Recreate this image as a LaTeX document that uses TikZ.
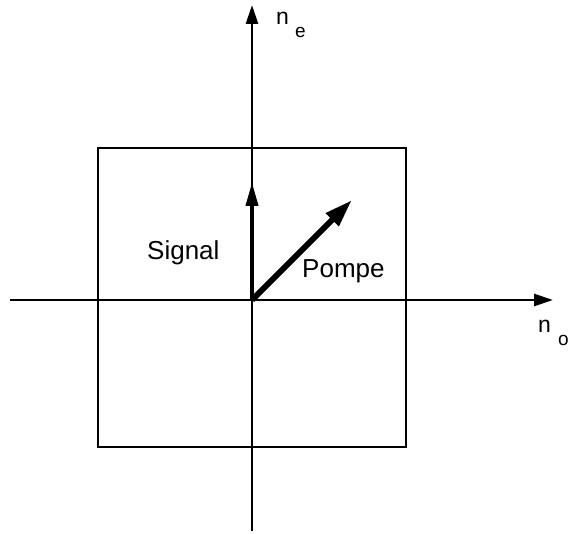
\documentclass[tikz,border=0pt]{standalone}
\usepackage{fontspec}
\setmainfont{Liberation Sans}
\usetikzlibrary{arrows.meta}
\tikzset{
  axis/.style={line width=2.8pt,-{Triangle[length=19pt,width=12pt]}},
  frame/.style={line width=2pt},
  signalvec/.style={line width=3.8pt,-{Triangle[length=24pt,width=12pt]}},
  pompevec/.style={line width=6pt,-{Triangle[length=28pt,width=17pt]}},
  lbl/.style={inner sep=0pt,anchor=base west,font=\fontsize{26}{30}\selectfont},
  axlbl/.style={inner sep=0pt,anchor=base west,font=\fontsize{23}{27}\selectfont},
  sublbl/.style={inner sep=0pt,anchor=base west,font=\fontsize{19}{22}\selectfont}
}
\begin{document}
\begin{tikzpicture}[x=1pt,y=1pt]
\useasboundingbox (0,0) rectangle (569,534);
\coordinate (O) at (252,234);
\coordinate (vb) at (252,3);
\coordinate (vt) at (252,529);
\coordinate (hl) at (10,234);
\coordinate (hr) at (553,234);
\coordinate (s) at (252,352);
\coordinate (p) at (352,334);
\draw[frame] (98,87) rectangle (406,386);
\draw[axis] (vb) -- (vt);
\draw[axis] (hl) -- (hr);
\draw[signalvec] (O) -- (s);
\draw[pompevec] (O) -- (p);
\node[lbl] (sig) at (147,274) {Signal};
\node[lbl] (pom) at (302,256) {Pompe};
\node[axlbl] (ne) at (276,509) {n};
\node[sublbl] (nes) at (295,496) {e};
\node[axlbl] (no) at (538,201) {n};
\node[sublbl] (nos) at (558,188) {o};
\end{tikzpicture}
\end{document}
